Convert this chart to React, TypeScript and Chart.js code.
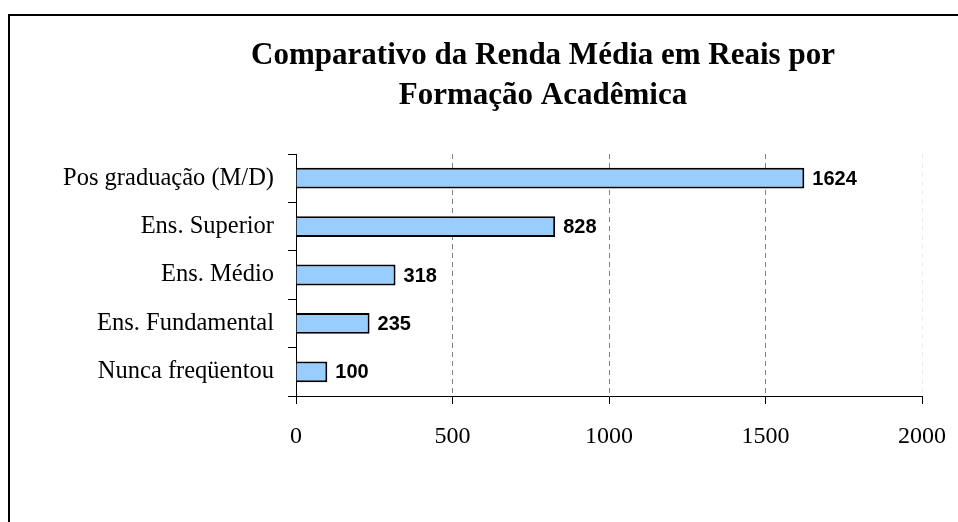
import React, { useEffect, useRef } from "react";
import { Chart, registerables } from "chart.js";

Chart.register(...registerables);

const categories = [
  "Pos graduação (M/D)",
  "Ens. Superior",
  "Ens. Médio",
  "Ens. Fundamental",
  "Nunca freqüentou",
];
const values = [1624, 828, 318, 235, 100];
const xMin = 0;
const xMax = 2000;
const xStep = 500;
const titleLines = ["Comparativo da Renda Média em Reais por", "Formação Acadêmica"];

const W = 958;
const H = 522;

export default function App() {
  const ref = useRef<HTMLCanvasElement | null>(null);

  useEffect(() => {
    const canvas = ref.current;
    if (!canvas) return;

    const framePlugin = {
      id: "frame",
      beforeDraw(chart: any) {
        const ctx = chart.ctx;
        ctx.save();
        ctx.fillStyle = "#fff";
        ctx.fillRect(0, 0, W, H);
        ctx.strokeStyle = "#000";
        ctx.lineWidth = 2;
        ctx.beginPath();
        ctx.moveTo(9, H + 5);
        ctx.lineTo(9, 15);
        ctx.lineTo(W + 5, 15);
        ctx.stroke();
        ctx.restore();
      },
      afterDraw(chart: any) {
        const ctx = chart.ctx;
        ctx.save();
        ctx.fillStyle = "#000";
        ctx.font = "bold 31px 'Liberation Serif', 'Times New Roman', serif";
        ctx.textAlign = "center";
        ctx.textBaseline = "middle";
        ctx.fillText(titleLines[0], 543, 56);
        ctx.fillText(titleLines[1], 543, 96);
        ctx.restore();
      },
    };

    const labelPlugin = {
      id: "barLabels",
      afterDatasetsDraw(chart: any) {
        const ctx = chart.ctx;
        const meta = chart.getDatasetMeta(0);
        ctx.save();
        ctx.fillStyle = "#000";
        ctx.font = "bold 20px 'Liberation Sans', Arial, sans-serif";
        ctx.textAlign = "left";
        ctx.textBaseline = "middle";
        meta.data.forEach((bar: any, i: number) => {
          ctx.fillText(String(values[i]), bar.x + 8, bar.y + 1);
        });
        ctx.restore();
      },
    };

    const chart = new Chart(canvas, {
      type: "bar",
      data: {
        labels: categories,
        datasets: [
          {
            data: values,
            backgroundColor: "#99CCFF",
            borderColor: "#000",
            borderWidth: 2,
            barPercentage: 0.43,
            categoryPercentage: 1,
          },
        ],
      },
      options: {
        indexAxis: "y",
        responsive: false,
        animation: false,
        layout: { padding: { left: 0, top: 154, right: 36, bottom: 0 } },
        plugins: {
          legend: { display: false },
          tooltip: { enabled: false },
          title: { display: false },
        },
        scales: {
          x: {
            type: "linear",
            min: xMin,
            max: xMax,
            ticks: {
              stepSize: xStep,
              color: "#000",
              padding: 18,
              callback: (v: any) => String(v),
              font: { family: "'Liberation Serif', 'Times New Roman', serif", size: 24 },
            },
            grid: {
              drawOnChartArea: true,
              drawTicks: true,
              tickLength: 8,
              tickColor: "#000",
              lineWidth: 1,
              color: (c: any) => {
                const v = c.tick ? c.tick.value : 0;
                if (v === xMin) return "rgba(0,0,0,0)";
                if (v === xMax) return "#ececec";
                return "#808080";
              },
            },
            border: { display: true, color: "#000", width: 1, dash: [5, 4] },
            afterFit: (s: any) => {
              s.height = H - 396;
              s.paddingLeft = 0;
              s.paddingRight = 0;
            },
          },
          y: {
            type: "category",
            ticks: {
              color: "#000",
              padding: 14,
              font: { family: "'Liberation Serif', 'Times New Roman', serif", size: 24.5 },
            },
            grid: {
              offset: true,
              drawOnChartArea: false,
              drawTicks: true,
              tickLength: 8,
              tickColor: "#000",
              color: "#000",
            },
            border: { display: true, color: "#000", width: 1 },
            afterFit: (s: any) => {
              s.width = 296;
              s.paddingTop = 0;
              s.paddingBottom = 0;
            },
          },
        },
      },
      plugins: [framePlugin, labelPlugin],
    } as any);

    return () => chart.destroy();
  }, []);

  return (
    <canvas
      ref={ref}
      width={W}
      height={H}
      style={{ position: "fixed", left: 0, top: 0, width: W, height: H }}
    />
  );
}
